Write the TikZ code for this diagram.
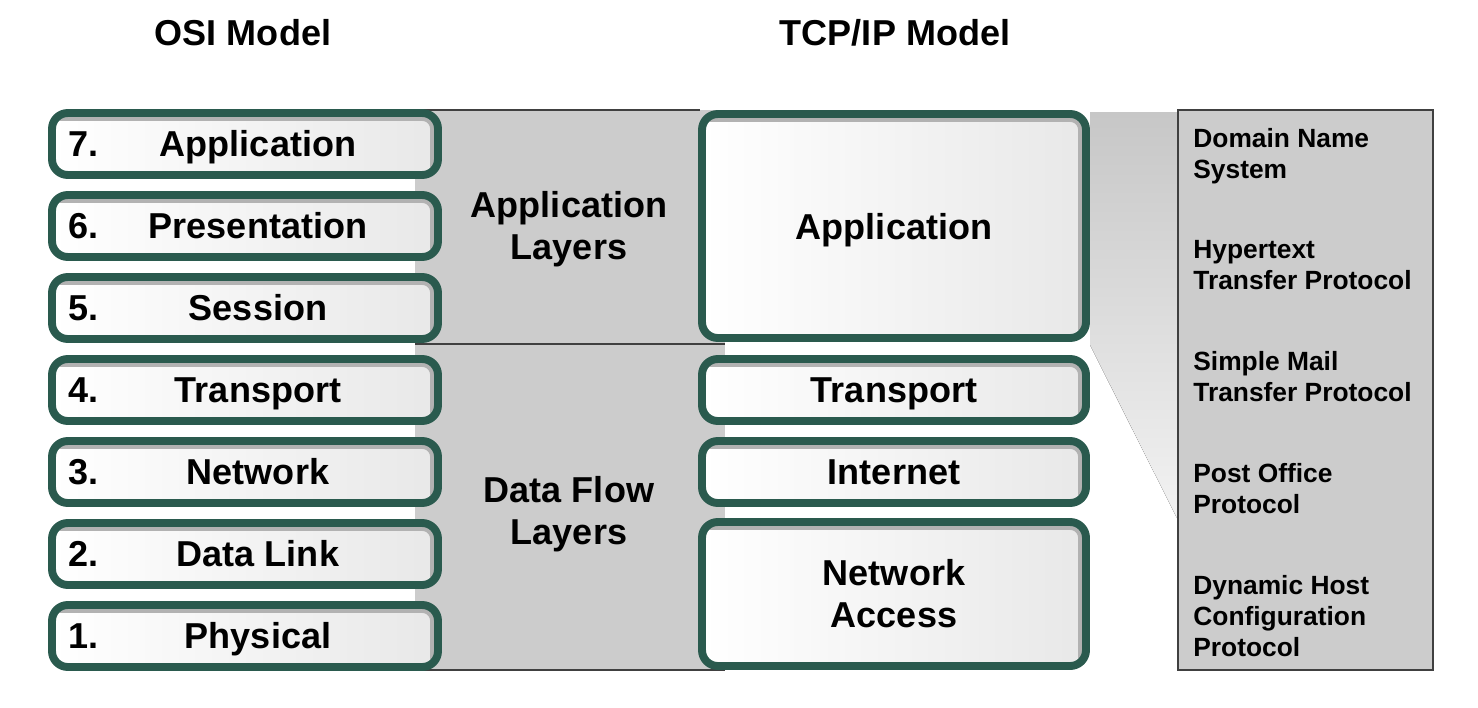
\documentclass[tikz,border=0pt]{standalone}
\usepackage{fontspec}
\setmainfont{Liberation Sans}
\definecolor{layergreen}{RGB}{42,90,78}

\begin{document}
\begin{tikzpicture}[x=0.2mm, y=-0.2mm,
    layer/.style={draw=layergreen, line width=4.5pt, rounded corners=9pt,
      left color=white, right color=black!9, inner sep=0pt, outer sep=0pt,
      font=\fontsize{20.5}{23.8}\selectfont\bfseries,
      path picture={\draw[black!30, line width=9pt]
        (path picture bounding box.north west) -- (path picture bounding box.north east)
        -- (path picture bounding box.south east);}},
    lbl/.style={font=\fontsize{20.5}{23.8}\selectfont\bfseries, inner sep=0pt, text depth=0pt},
    twoline/.style={font=\fontsize{20.5}{23.8}\selectfont\bfseries, inner sep=0pt, align=center},
    proto/.style={font=\fontsize{15}{17.6}\selectfont\bfseries, inner sep=0pt, anchor=base west}]

    \useasboundingbox (0,0) rectangle (1478,708);

    % Gray band behind both layer groups
    \fill[black!20] (415,110) rectangle (725,670);
    \draw[black!75, line width=0.8pt] (415,110) -- (700,110);
    \draw[black!75, line width=0.8pt] (415,344) -- (725,344);
    \draw[black!75, line width=0.8pt] (415,670) -- (725,670);

    % Wedge towards the protocol list
    \fill[top color=black!22, bottom color=black!5] (1090,112) -- (1178,112) -- (1178,520) -- (1090,345) -- cycle;

    % Titles
    \node[lbl] (osititle) at (243,32) {OSI Model};
    \node[lbl] (tcptitle) at (895,32) {TCP/IP Model};

    % OSI layers
    \foreach \nr/\name/\y in {7/Application/144, 6/Presentation/226, 5/Session/308,
        4/Transport/390, 3/Network/472, 2/Data Link/554, 1/Physical/636} {
      \node[layer, minimum width=77.2mm, minimum height=12.4mm] (osi\nr) at (245,\y) {};
      \node[lbl, anchor=base west] (osinum\nr) at (68,\y+12) {\nr.};
      \node[lbl, anchor=base] (osiname\nr) at (258,\y+12) {\name};
    }

    % Group labels in the band
    \node[twoline] (applayers) at (569,229) {Application\\Layers};
    \node[twoline] (flowlayers) at (569,514) {Data Flow\\Layers};

    % TCP/IP layers
    \node[layer, text depth=0pt, minimum width=76.8mm, minimum height=44.8mm] (tcpapp) at (894,226) {Application};
    \node[layer, text depth=0pt, minimum width=76.8mm, minimum height=12.4mm] (tcptrans) at (894,390) {Transport};
    \node[layer, text depth=0pt, minimum width=76.8mm, minimum height=12.4mm] (tcpinet) at (894,472) {Internet};
    \node[layer, align=center, minimum width=76.8mm, minimum height=28.8mm] (tcpnet) at (894,594) {Network\\Access};

    % Protocol list
    \node[draw=black!75, line width=0.7pt, fill=black!20, minimum width=51mm, minimum height=112mm, inner sep=0pt] (protolist) at (1305.5,390) {};
    \foreach \txt/\y [count=\i] in {Domain Name/147, System/178, Hypertext/258, Transfer Protocol/289,
        Simple Mail/370, Transfer Protocol/401, Post Office/482, Protocol/513,
        Dynamic Host/594, Configuration/625, Protocol/656}
      \node[proto] (proto\i) at (1193,\y) {\txt};
\end{tikzpicture}
\end{document}
